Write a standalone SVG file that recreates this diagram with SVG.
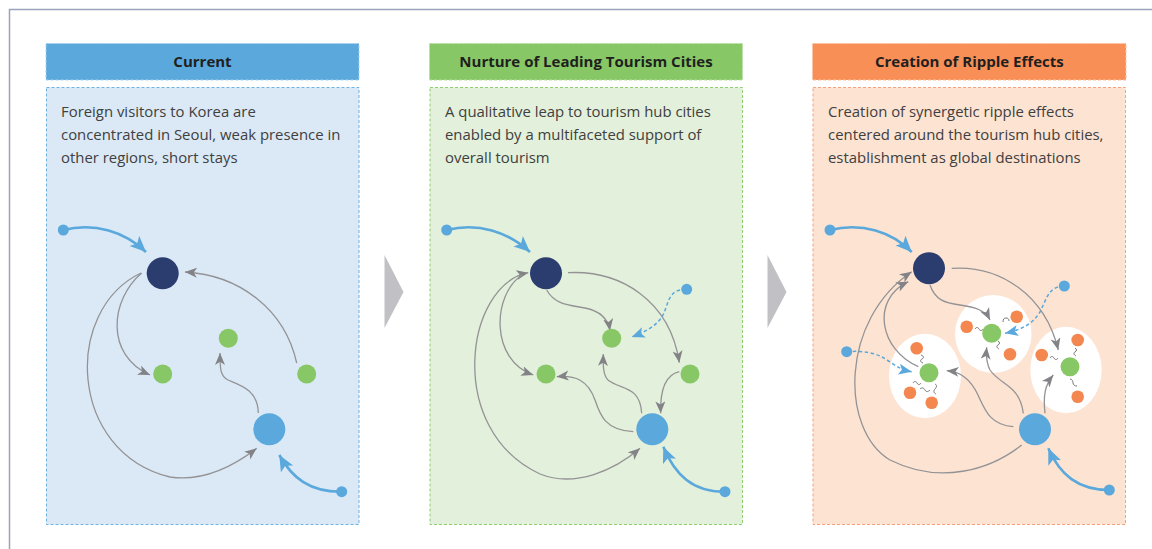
<svg xmlns="http://www.w3.org/2000/svg" width="1152" height="549" viewBox="0 0 1152 549">
<style>
.ht{font-family:"Open Sans","Liberation Sans",sans-serif;font-weight:bold;font-size:15px;fill:#1f1f1f;text-anchor:middle}
.bt{font-family:"Open Sans","Liberation Sans",sans-serif;font-size:14.9px;fill:#404040}
.g{fill:none;stroke:#939396;stroke-width:1.3}
.b{fill:none;stroke:#5aa8dc;stroke-width:2.6}
.bd{fill:none;stroke:#5aa8dc;stroke-width:1.5;stroke-dasharray:3.5 2.5}
.sq{fill:none;stroke:#6a6a6a;stroke-width:0.9}
.navy{fill:#2b3d6e}
.hub{fill:#5aa8dc}
.grn{fill:#88c765}
.org{fill:#f4874f}
.src{fill:#5aa8dc}
.ell{fill:#ffffff}
</style>
<defs>
<marker id="ag" markerUnits="userSpaceOnUse" markerWidth="13" markerHeight="11" refX="12" refY="5" orient="auto-start-reverse"><path d="M0,0 L12,5 L0,10 L3.2,5 z" fill="#838387"/></marker>
<marker id="ab" markerUnits="userSpaceOnUse" markerWidth="17" markerHeight="15" refX="16" refY="7" orient="auto"><path d="M0,0 L16,7 L0,14 L3.8,7 z" fill="#5aa8dc"/></marker>
<marker id="abd" markerUnits="userSpaceOnUse" markerWidth="14" markerHeight="12" refX="13" refY="5.5" orient="auto"><path d="M0,0 L13,5.5 L0,11 L3,5.5 z" fill="#5aa8dc"/></marker>
</defs>
<rect width="1152" height="549" fill="#ffffff"/>
<path d="M9.5,549 L9.5,9.5 L1152,9.5" fill="none" stroke="#9aa3bd" stroke-width="1.5"/>

<!-- panel arrows -->
<polygon points="384.5,255 403.5,292 384.5,328" fill="#c1c1c5"/>
<polygon points="767.5,255 786.5,292 767.5,328" fill="#c1c1c5"/>

<!-- Panel 1 -->
<g id="panel-current">
<rect x="46" y="43.5" width="313" height="36.5" fill="#5ba8dc" stroke="#a9d1ee" stroke-width="1" stroke-dasharray="3 2"/>
<text class="ht" x="202.5" y="67">Current</text>
<rect x="46.5" y="87.5" width="312.5" height="437" fill="#dbe9f6" stroke="#6fb3e3" stroke-width="1" stroke-dasharray="3 2"/>
<text class="bt" x="61" y="117">Foreign visitors to Korea are</text>
<text class="bt" x="61" y="140">concentrated in Seoul, weak presence in</text>
<text class="bt" x="61" y="163">other regions, short stays</text>
</g>
<g id="connectors-current">
<path class="b" d="M63,230 C95,222 125,232 146,252" marker-end="url(#ab)"/>
<path class="b" d="M341.7,491.7 C310,492 292,478 279.3,455" marker-end="url(#ab)"/>
<path class="g" d="M296.7,363 C285,310 240,275 185,272" marker-end="url(#ag)"/>
<path class="g" d="M141.7,273 C110,300 105,355 150,375" marker-end="url(#ag)"/>
<path class="g" d="M141,273 C63,310 68,452 170,477 C205,482 235,465 256.7,448.3" marker-end="url(#ag)"/>
<path class="g" d="M258.3,413 C258,390 240,385 228,380 C220,376 220,368 220,353" marker-end="url(#ag)"/>
</g>
<g id="nodes-current">
<circle class="src" cx="63.3" cy="230" r="5.5"/>
<circle class="src" cx="341.7" cy="491.7" r="5.5"/>
<circle class="navy" cx="162.7" cy="273.3" r="16"/>
<circle class="hub" cx="269.3" cy="429.3" r="16"/>
<circle class="grn" cx="162.7" cy="374" r="9.5"/>
<circle class="grn" cx="228.3" cy="338.3" r="9.5"/>
<circle class="grn" cx="306.7" cy="374" r="9.5"/>
</g>

<!-- Panel 2 -->
<g id="panel-nurture">
<rect x="429.5" y="43.5" width="313" height="36.5" fill="#88c765" stroke="#b8e0a2" stroke-width="1" stroke-dasharray="3 2"/>
<text class="ht" x="586" y="67">Nurture of Leading Tourism Cities</text>
<rect x="430" y="87.5" width="312.5" height="437" fill="#e3f0db" stroke="#8fcf6f" stroke-width="1" stroke-dasharray="3 2"/>
<text class="bt" x="445" y="117">A qualitative leap to tourism hub cities</text>
<text class="bt" x="445" y="140">enabled by a multifaceted support of</text>
<text class="bt" x="445" y="163">overall tourism</text>
</g>
<g id="connectors-nurture">
<path class="b" d="M446.7,230 C478,222 508,232 530,252" marker-end="url(#ab)"/>
<path class="b" d="M725,491.7 C693,492 675,475 663.3,446.7" marker-end="url(#ab)"/>
<path class="bd" d="M680,290 C668,293 668,305 663,315 C658,325 645,332 631.7,337" marker-end="url(#abd)"/>
<path class="g" d="M568,272.7 C620,270 670,300 679.3,362.7" marker-end="url(#ag)"/>
<path class="g" d="M546.7,290 C555,305 570,305 585,308 C600,311 608,318 610,330.7" marker-end="url(#ag)"/>
<path class="g" d="M528.3,272.7 C465,285 445,430 540,474 C575,488 615,470 640,448.3" marker-start="url(#ag)" marker-end="url(#ag)"/>
<path class="g" d="M522,275 C492,295 490,360 533.3,375" marker-end="url(#ag)"/>
<path class="g" d="M633.3,431.7 C605,430 600,415 595,400 C588,380 575,375 556.7,376.7" marker-end="url(#ag)"/>
<path class="g" d="M641.7,413.3 C640,385 620,390 608,380 C603,375 603,365 603.3,354" marker-end="url(#ag)"/>
<path class="g" d="M679.3,371.7 C665,375 660,390 660.7,413.3" marker-end="url(#ag)"/>
</g>
<g id="nodes-nurture">
<circle class="src" cx="446.7" cy="230" r="5.5"/>
<circle class="src" cx="725" cy="491.7" r="5.5"/>
<circle class="src" cx="686.7" cy="289.3" r="5.5"/>
<circle class="navy" cx="546" cy="273.3" r="16"/>
<circle class="hub" cx="652.3" cy="429.3" r="16"/>
<circle class="grn" cx="611.7" cy="338.3" r="9.5"/>
<circle class="grn" cx="546" cy="374" r="9.5"/>
<circle class="grn" cx="690" cy="374" r="9.5"/>
</g>

<!-- Panel 3 -->
<g id="panel-ripple">
<rect x="812.5" y="43.5" width="313.5" height="36.5" fill="#f78f57" stroke="#fbc2a3" stroke-width="1" stroke-dasharray="3 2"/>
<text class="ht" x="969.3" y="67">Creation of Ripple Effects</text>
<rect x="813" y="87.5" width="312.5" height="437" fill="#fde3d2" stroke="#f6a27c" stroke-width="1" stroke-dasharray="3 2"/>
<text class="bt" x="828" y="117">Creation of synergetic ripple effects</text>
<text class="bt" x="828" y="140">centered around the tourism hub cities,</text>
<text class="bt" x="828" y="163">establishment as global destinations</text>
</g>
<g id="clusters-ripple">
<ellipse class="ell" cx="925" cy="376" rx="36" ry="42.3"/>
<ellipse class="ell" cx="993.3" cy="334" rx="38.3" ry="39"/>
<ellipse class="ell" cx="1066" cy="370" rx="35.7" ry="43.3"/>
</g>
<g id="connectors-ripple">
<path class="b" d="M830,230 C862,222 892,232 911.7,252" marker-end="url(#ab)"/>
<path class="b" d="M1109.3,490 C1078,490 1060,475 1048.3,448.3" marker-end="url(#ab)"/>
<path class="bd" d="M846.7,351.7 C870,350 880,355 890,362 C897,367 903,370 911.7,371.7" marker-end="url(#abd)"/>
<path class="bd" d="M1058,287 C1048,290 1046,300 1040,312 C1032,325 1020,330 1005,333.3" marker-end="url(#abd)"/>
<path class="g" d="M951.7,268.3 C1000,265 1045,295 1058.3,350" marker-end="url(#ag)"/>
<path class="g" d="M930,285 C935,300 945,303 960,305 C975,307 985,310 990,320" marker-end="url(#ag)"/>
<path class="g" d="M918.3,366.7 C880,350 870,300 908.3,281.7" marker-end="url(#ag)"/>
<path class="g" d="M1021.7,445 C990,470 940,485 890,460 C840,430 840,320 911.7,271.7" marker-end="url(#ag)"/>
<path class="g" d="M1013.3,426.7 C990,425 985,410 978,395 C970,378 960,372 946.7,370.7" marker-end="url(#ag)"/>
<path class="g" d="M1023.3,413.3 C1020,385 1000,385 990,370 C986,362 986,355 986.7,347.3" marker-end="url(#ag)"/>
<path class="g" d="M1045,413.3 C1043,395 1045,385 1053.3,375" marker-end="url(#ag)"/>
<path class="sq" d="M921,355 c3,1 3,3 1,4 c-2,1 -2,3 1,4"/>
<path class="sq" d="M913,383 c1,-2 3,-2 4,0 c1,2 3,2 4,0"/>
<path class="sq" d="M920,389 c2,-2 4,-1 5,1 c1,2 3,2 5,0"/>
<path class="sq" d="M935,384 c2,1 2,3 0,5 c-2,2 -1,4 1,5"/>
<path class="sq" d="M975,329 c1,-2 3,-2 4,0 c1,2 3,2 4,0"/>
<path class="sq" d="M1003,322 c0,-3 1,-4 3,-4 c2,0 3,1 3,3"/>
<path class="sq" d="M998,341 c2,1 2,3 0,4 c-2,1 -1,3 1,4"/>
<path class="sq" d="M1050,358 c1,-2 3,-2 4,0 c1,2 3,2 4,0"/>
<path class="sq" d="M1075,348 c2,1 2,3 0,4 c-2,1 -1,3 1,4"/>
<path class="sq" d="M1070,379 c2,0 3,2 3,4 c0,2 2,3 4,3"/>
</g>
<g id="nodes-ripple">
<circle class="src" cx="830" cy="230" r="5.5"/>
<circle class="src" cx="1109.3" cy="490" r="5.5"/>
<circle class="src" cx="846.7" cy="351.7" r="5.5"/>
<circle class="src" cx="1064.3" cy="286" r="5.5"/>
<circle class="navy" cx="929" cy="268.3" r="16"/>
<circle class="hub" cx="1035" cy="429.3" r="16"/>
<circle class="grn" cx="929" cy="372.7" r="9.5"/>
<circle class="grn" cx="991.7" cy="333.3" r="9.5"/>
<circle class="grn" cx="1070" cy="366.7" r="9.5"/>
<circle class="org" cx="916.7" cy="348.3" r="6.3"/>
<circle class="org" cx="910" cy="392.7" r="6.3"/>
<circle class="org" cx="931.7" cy="402.7" r="6.3"/>
<circle class="org" cx="966.7" cy="326.7" r="6.3"/>
<circle class="org" cx="1016.7" cy="316.7" r="6.3"/>
<circle class="org" cx="1010" cy="354.3" r="6.3"/>
<circle class="org" cx="1041.7" cy="355" r="6.3"/>
<circle class="org" cx="1077.7" cy="340" r="6.3"/>
<circle class="org" cx="1077.7" cy="396.7" r="6.3"/>
</g>
</svg>
